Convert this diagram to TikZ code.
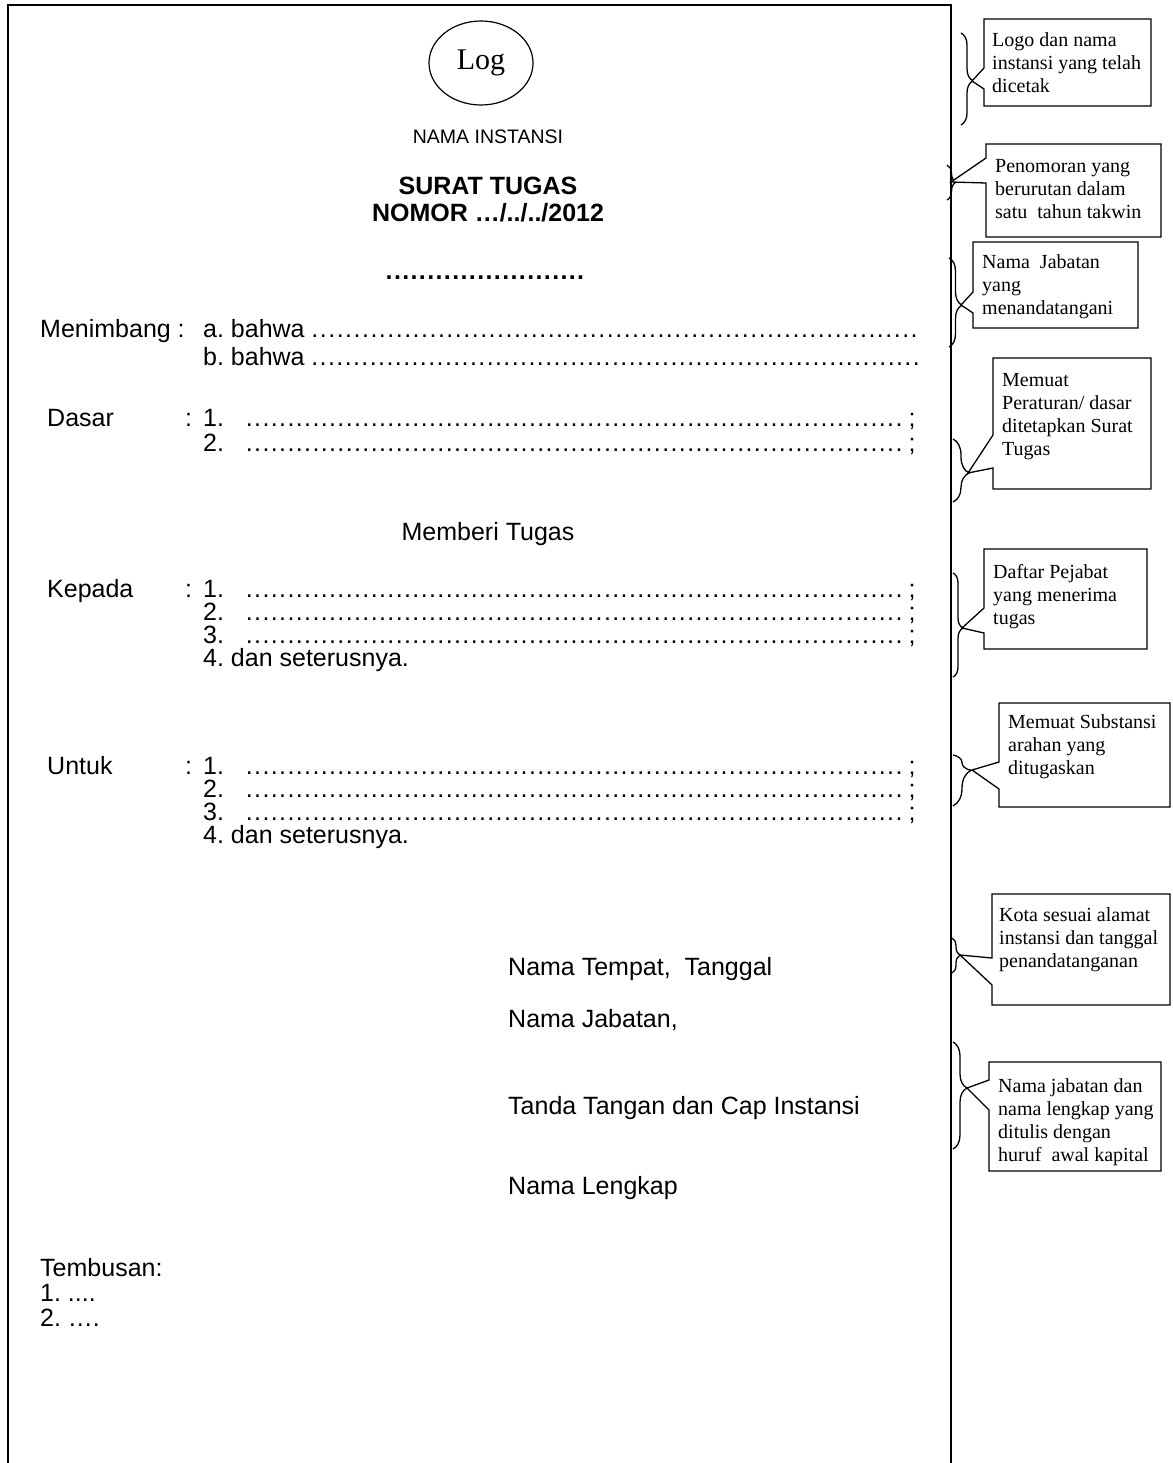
\documentclass[tikz,border=0pt]{standalone}
\usepackage{fontspec}
\setmainfont{Liberation Sans}
\newfontfamily\notefont{Liberation Serif}
\usetikzlibrary{decorations.pathreplacing,shapes.geometric}
\newcommand\dts{\leaders\hbox to 0.333em{\hss.\hss}\hfill}
\newcommand\xdts{\xleaders\hbox to 0.333em{\hss.\hss}\hfill}
\frenchspacing
\begin{document}
\begin{tikzpicture}[x=1pt,y=-1pt,
  body/.style={inner sep=0, font=\fontsize{25}{29}\selectfont},
  lw/.style={body, anchor=base west},
  note/.style={anchor=base west, inner sep=0, font=\notefont\fontsize{20}{23}\selectfont},
  pageframe/.style={line width=1.8pt, line join=miter},
  callout/.style={draw, line width=1.3pt, fill=white, line join=miter},
  brc/.style={decorate, line width=1.3pt}]
\useasboundingbox (0,0) rectangle (1172,1463);
\fill[white] (0,0) rectangle (1172,1463);
% page frame
\draw[pageframe] (8,1463) -- (8,5) -- (951,5) -- (951,1463);

% header
\node[draw, ellipse, line width=1.2pt, minimum width=104pt, minimum height=84pt, inner sep=0,
      font=\notefont\fontsize{30}{34}\selectfont] (logo) at (481,63) {Log};
\node[inner sep=0, anchor=base, font=\fontsize{19.5}{23}\selectfont] (inst) at (488,144) {NAMA INSTANSI};
\node[body, anchor=base, font=\fontsize{25}{29}\selectfont\bfseries] (judul) at (488,195) {SURAT TUGAS};
\node[body, anchor=base, font=\fontsize{25}{29}\selectfont\bfseries] (nomor) at (488,222) {NOMOR …/../../2012};
\node[body, anchor=base, font=\fontsize{25}{29}\selectfont\bfseries] (jab) at (489,279) {\makebox[208pt]{\dts}};

% Menimbang
\node[lw] (menimbang) at (40,337) {Menimbang :};
\node[lw] (ma) at (203,337) {\makebox[715pt][l]{a. bahwa\hspace{6pt}\xdts}};
\node[lw] (mb) at (203,365) {\makebox[717pt][l]{b. bahwa\hspace{6pt}\xdts}};

% Dasar
\node[lw] (dasar) at (47,426) {Dasar};
\node[lw] (dcol) at (185,426) {:};
\node[lw] (d1) at (203,426) {1.};
\node[lw] (d1d) at (245,426) {\makebox[670pt][l]{\dts;}};
\node[lw] (d2) at (203,451) {2.};
\node[lw] (d2d) at (245,451) {\makebox[670pt][l]{\dts;}};

\node[body, anchor=base] (memberi) at (488,540) {Memberi Tugas};

% Kepada
\node[lw] (kepada) at (47,597) {Kepada};
\node[lw] (kcol) at (185,597) {:};
\node[lw] (k1) at (203,597) {1.};
\node[lw] (k1d) at (245,597) {\makebox[670pt][l]{\dts;}};
\node[lw] (k2) at (203,620) {2.};
\node[lw] (k2d) at (245,620) {\makebox[670pt][l]{\dts;}};
\node[lw] (k3) at (203,643) {3.};
\node[lw] (k3d) at (245,643) {\makebox[670pt][l]{\dts;}};
\node[lw] (k4) at (203,666) {4. dan seterusnya.};

% Untuk
\node[lw] (untuk) at (47,774) {Untuk};
\node[lw] (ucol) at (185,774) {:};
\node[lw] (u1) at (203,774) {1.};
\node[lw] (u1d) at (245,774) {\makebox[670pt][l]{\dts;}};
\node[lw] (u2) at (203,797) {2.};
\node[lw] (u2d) at (245,797) {\makebox[670pt][l]{\dts;}};
\node[lw] (u3) at (203,820) {3.};
\node[lw] (u3d) at (245,820) {\makebox[670pt][l]{\dts;}};
\node[lw] (u4) at (203,843) {4. dan seterusnya.};

% signature
\node[lw] (tempat) at (508,975) {Nama Tempat,\ \ Tanggal};
\node[lw] (jabatan) at (508,1027) {Nama Jabatan,};
\node[lw] (ttd) at (508,1114) {Tanda Tangan dan Cap Instansi};
\node[lw] (lengkap) at (508,1194) {Nama Lengkap};

% Tembusan
\node[lw] (tembusan) at (40,1276) {Tembusan:};
\node[lw] (t1) at (40,1301) {1. ....};
\node[lw] (t2) at (40,1326) {2. ….};

% ---- callouts ----
% 1
\coordinate (p1) at (972,81);
\draw[brc, decoration={brace, amplitude=12pt, aspect=0.52}] (961,33) -- (961,125);
\draw[callout] (984,19) -- (1151,19) -- (1151,106) -- (984,106) -- (984,89) -- (p1) -- (984,68) -- cycle;
\node[note] (c1) at (992,47) {\begin{tabular}[t]{@{}l@{}}Logo dan nama\\instansi yang telah\\dicetak\end{tabular}};
% 2
\coordinate (p2) at (951,182);
\draw[brc, decoration={brace, amplitude=9pt, aspect=0.49}] (947,165) -- (947,200);
\draw[callout] (986,144) -- (1161,144) -- (1161,237) -- (986,237) -- (986,183) -- (p2) -- (986,158) -- cycle;
\node[note] (c2) at (995,173) {\begin{tabular}[t]{@{}l@{}}Penomoran yang\\berurutan dalam\\satu\ \ tahun takwin\end{tabular}};
% 3
\coordinate (p3) at (961,305);
\draw[brc, decoration={brace, amplitude=13pt, aspect=0.53}] (949,258) -- (949,347);
\draw[callout] (973,242) -- (1138,242) -- (1138,328) -- (973,328) -- (973,313) -- (p3) -- (973,292) -- cycle;
\node[note] (c3) at (982,269) {\begin{tabular}[t]{@{}l@{}}Nama\ \ Jabatan\\yang\\menandatangani\end{tabular}};
% 4
\coordinate (p4) at (968,473);
\draw[brc, decoration={brace, amplitude=16pt, aspect=0.54}] (953,439) -- (953,502);
\draw[callout] (993,358) -- (1151,358) -- (1151,489) -- (993,489) -- (993,468) -- (p4) -- (993,435) -- cycle;
\node[note] (c4) at (1002,386) {\begin{tabular}[t]{@{}l@{}}Memuat\\Peraturan/ dasar\\ditetapkan Surat\\Tugas\end{tabular}};
% 5
\coordinate (p5) at (962,628);
\draw[brc, decoration={brace, amplitude=10pt, aspect=0.53}] (953,573) -- (953,677);
\draw[callout] (984,549) -- (1147,549) -- (1147,649) -- (984,649) -- (984,633) -- (p5) -- (984,608) -- cycle;
\node[note] (c5) at (993,578) {\begin{tabular}[t]{@{}l@{}}Daftar Pejabat\\yang menerima\\tugas\end{tabular}};
% 6
\coordinate (p6) at (972,770);
\draw[brc, decoration={brace, amplitude=18pt, aspect=0.3}] (953,755) -- (953,806);
\draw[callout] (999,703) -- (1170,703) -- (1170,807) -- (999,807) -- (999,789) -- (p6) -- (999,762) -- cycle;
\node[note] (c6) at (1008,728) {\begin{tabular}[t]{@{}l@{}}Memuat Substansi\\arahan yang\\ditugaskan\end{tabular}};
% 7
\coordinate (p7) at (960,955);
\draw[brc, decoration={brace, amplitude=8pt, aspect=0.49}] (952,938) -- (952,973);
\draw[callout] (992,894) -- (1170,894) -- (1170,1005) -- (992,1005) -- (992,985) -- (p7) -- (992,958) -- cycle;
\node[note] (c7) at (999,921) {\begin{tabular}[t]{@{}l@{}}Kota sesuai alamat\\instansi dan tanggal\\penandatanganan\end{tabular}};
% 8
\coordinate (p8) at (967,1088);
\draw[brc, decoration={brace, amplitude=14pt, aspect=0.43}] (953,1042) -- (953,1149);
\draw[callout] (989,1062) -- (1161,1062) -- (1161,1171) -- (989,1171) -- (989,1110) -- (p8) -- (989,1080) -- cycle;
\node[note] (c8) at (998,1092) {\begin{tabular}[t]{@{}l@{}}Nama jabatan dan\\nama lengkap yang\\ditulis dengan\\huruf\ \ awal kapital\end{tabular}};
\end{tikzpicture}
\end{document}
